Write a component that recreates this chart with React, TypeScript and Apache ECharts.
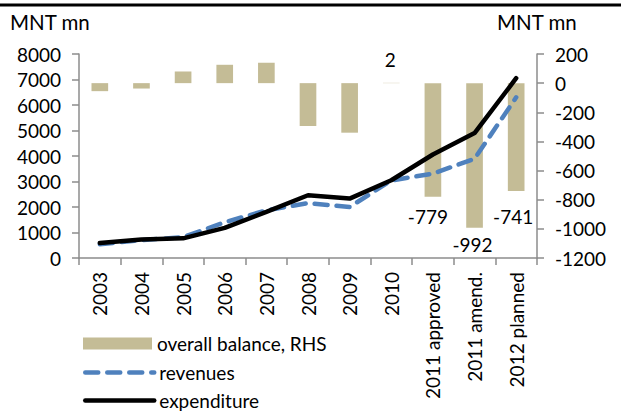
import React, { useEffect, useRef } from "react";
import * as echarts from "echarts";

const categories = ["2003", "2004", "2005", "2006", "2007", "2008", "2009", "2010", "2011 approved", "2011 amend.", "2012 planned"];
const balance = [-55, -37, 80, 126, 140, -294, -340, 2, -779, -992, -741];
const revenues = [540, 700, 820, 1400, 1870, 2150, 2000, 3040, 3310, 3890, 6300];
const expenditure = [590, 730, 770, 1180, 1810, 2460, 2330, 3050, 4060, 4900, 7050];
const leftTicks = { min: 0, max: 8000, interval: 1000 };
const rightTicks = { min: -1200, max: 200, interval: 200 };
const labelIdx = [7, 8, 9, 10];

const FONT = "Lato";

export default function App() {
  const ref = useRef<HTMLDivElement>(null);
  useEffect(() => {
    document.body.style.margin = "0";
    const chart = echarts.init(ref.current!, null, { renderer: "svg" });
    const labelCfg: Record<number, any> = {
      7: { position: "top", distance: 14, offset: [-1, 0] },
      8: { position: "bottom", distance: 10, offset: [-5, 0] },
      9: { position: "bottom", distance: 7, offset: [-2, 0] },
      10: { position: "bottom", distance: 16, offset: [-3, 0] },
    };
    const barData = balance.map((v, i) =>
      labelIdx.includes(i)
        ? {
            value: v,
            label: {
              show: true,
              ...labelCfg[i],
              color: "#000",
              fontFamily: FONT,
              fontSize: 19,
              formatter: (p: any) => String(p.value),
            },
          }
        : { value: v }
    );
    const axisText = { color: "#000", fontFamily: FONT, fontSize: 19 };
    const grey = "#8c8c8c";
    const revStyle = { color: "#4F81BD", width: 4.5, type: [13, 9], cap: "round" };
    const expStyle = { color: "#000", width: 4.5, cap: "round" };
    const legendBase = {
      orient: "vertical",
      left: 83,
      padding: 0,
      itemWidth: 69,
      itemHeight: 12,
      itemTextGap: 8,
      textStyle: { ...axisText, lineHeight: 16 },
    };
    chart.setOption({
      animation: false,
      textStyle: { fontFamily: FONT },
      grid: { left: 79, right: 89, top: 54, bottom: 153, containLabel: false },
      graphic: [
        { type: "line", shape: { x1: 0, y1: 5, x2: 621, y2: 5 }, style: { stroke: "#000", lineWidth: 3 } },
        { type: "text", left: 10, top: 11, style: { text: "MNT mn", fill: "#000", font: `20.5px ${FONT}` } },
        { type: "text", left: 497, top: 11, style: { text: "MNT mn", fill: "#000", font: `20.5px ${FONT}` } },
      ],
      legend: [
        { ...legendBase, top: 334, data: [{ name: "overall balance, RHS", icon: "rect" }] },
        { ...legendBase, top: 363, data: [{ name: "revenues", itemStyle: { opacity: 0 }, lineStyle: revStyle }] },
        { ...legendBase, top: 391, data: [{ name: "expenditure", itemStyle: { opacity: 0 }, lineStyle: expStyle }] },
      ],
      xAxis: {
        type: "category",
        data: categories,
        boundaryGap: true,
        axisLine: { lineStyle: { color: grey, width: 1.5 } },
        axisTick: { show: true, length: 7, lineStyle: { color: grey, width: 1.5 } },
        axisLabel: { ...axisText, rotate: 90, margin: 14, interval: 0 },
      },
      yAxis: [
        {
          type: "value",
          ...leftTicks,
          splitLine: { show: false },
          axisLine: { show: true, lineStyle: { color: grey, width: 1.5 } },
          axisTick: { show: true, length: 7, lineStyle: { color: grey, width: 1.5 } },
          axisLabel: { ...axisText, margin: 18, formatter: (v: number) => String(v) },
        },
        {
          type: "value",
          ...rightTicks,
          position: "right",
          splitLine: { show: false },
          axisLine: { show: true, lineStyle: { color: grey, width: 1.5 } },
          axisTick: { show: true, length: 7, lineStyle: { color: grey, width: 1.5 } },
          axisLabel: { ...axisText, margin: 18, formatter: (v: number) => String(v) },
        },
      ],
      series: [
        {
          name: "overall balance, RHS",
          type: "bar",
          yAxisIndex: 1,
          barWidth: "40%",
          itemStyle: { color: "#C4BC96" },
          data: barData,
          z: 1,
        },
        {
          name: "revenues",
          type: "line",
          yAxisIndex: 0,
          symbol: "none",
          data: revenues,
          itemStyle: { color: "#4F81BD" },
          lineStyle: revStyle,
          z: 3,
        },
        {
          name: "expenditure",
          type: "line",
          yAxisIndex: 0,
          symbol: "none",
          data: expenditure,
          itemStyle: { color: "#000" },
          lineStyle: expStyle,
          z: 4,
        },
      ],
    });
    return () => chart.dispose();
  }, []);
  return <div ref={ref} style={{ width: 626, height: 411 }} />;
}
